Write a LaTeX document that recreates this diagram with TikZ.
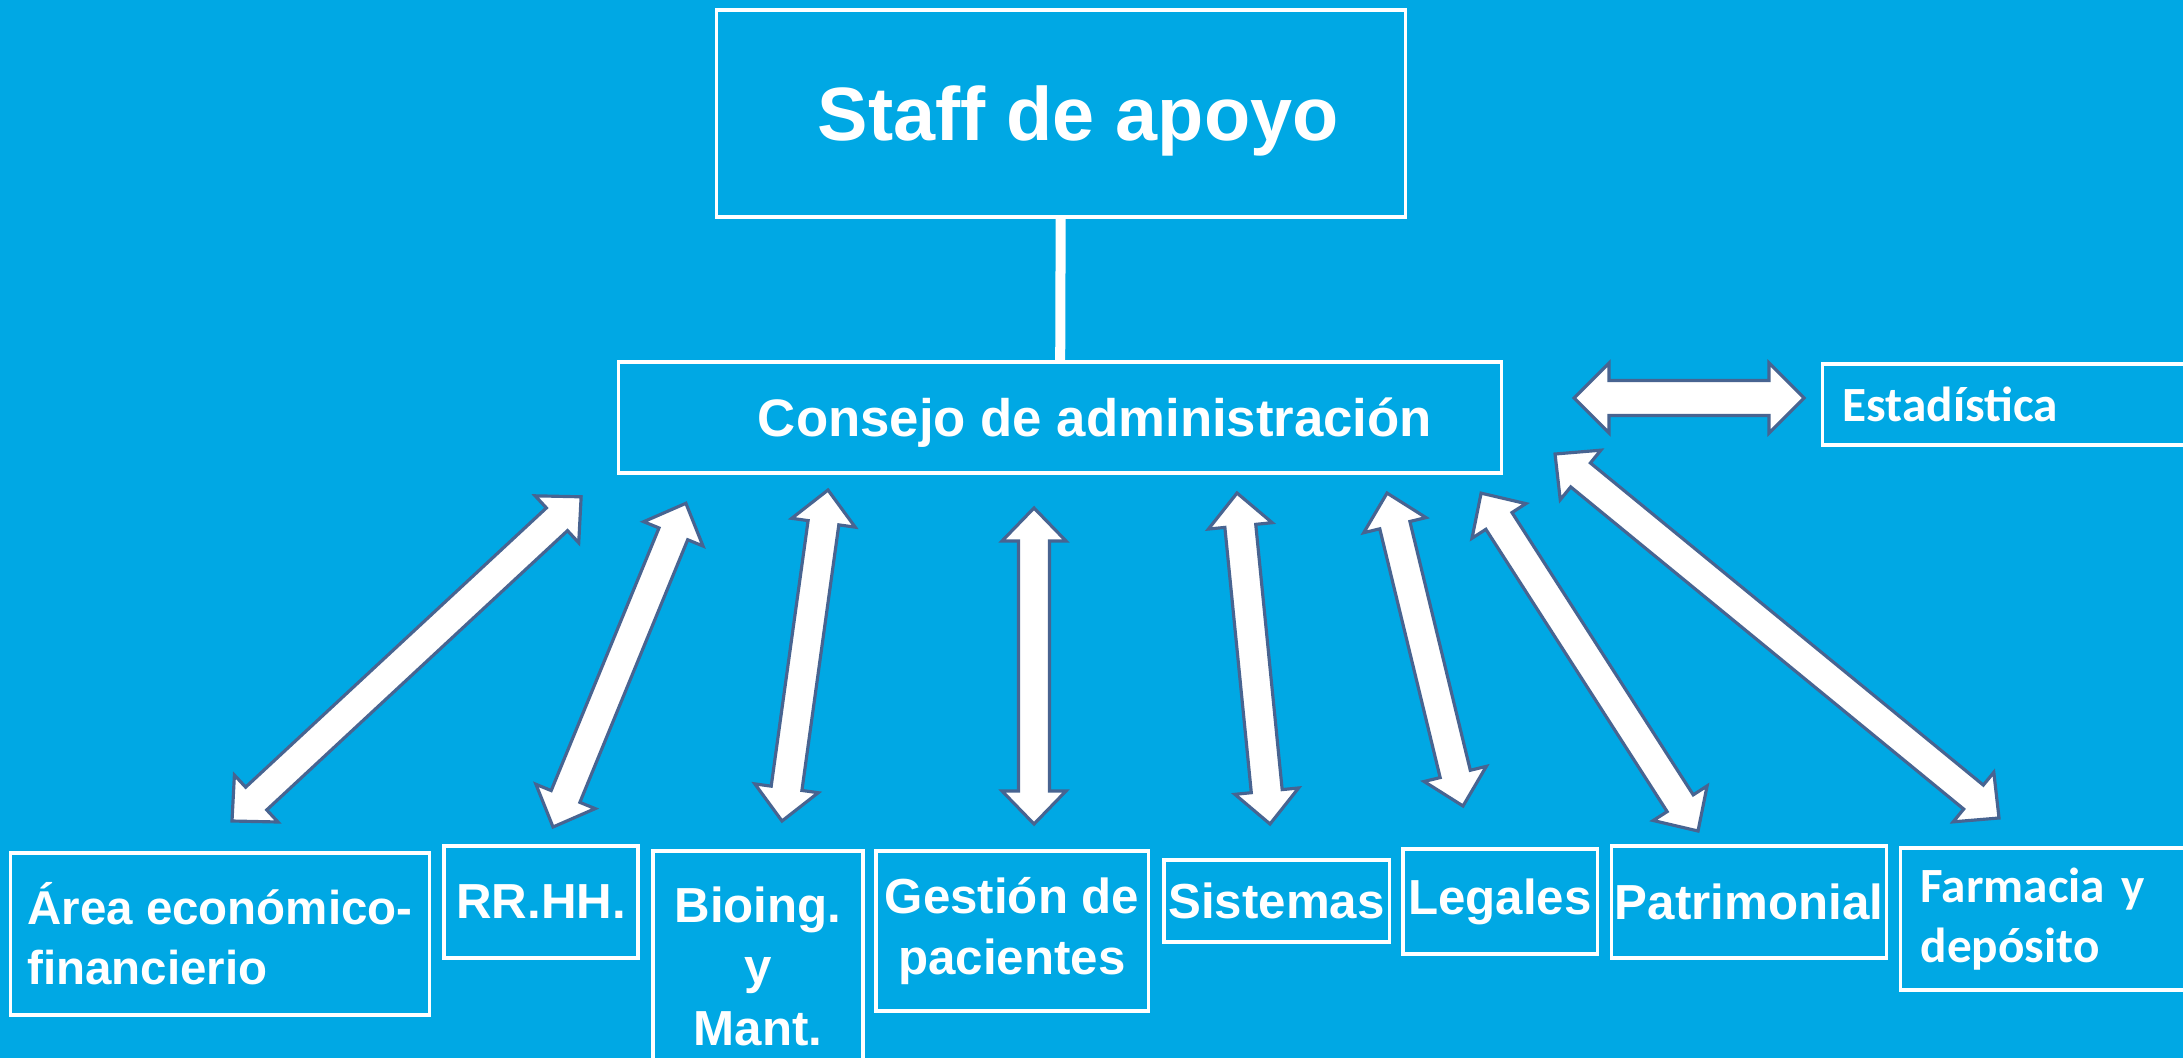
\documentclass[tikz,border=0pt]{standalone}
\usepackage{fontspec}
\setmainfont{Liberation Sans}
\newfontfamily\calibfont{Carlito}
\usetikzlibrary{calc}
\definecolor{bgblue}{RGB}{0,168,228}
\definecolor{arrowedge}{RGB}{72,100,145}

\newcommand\arrhl{0.33cm}
\newcommand\arrhw{0.32cm}
\newcommand\arrsw{0.155cm}
\newcommand{\dblarrow}[3][]{%
  \draw[blockarrow,#1] let \p1=(#2), \p2=(#3),
      \n1={atan2(\y2-\y1,\x2-\x1)}, \n2={veclen(\x2-\x1,\y2-\y1)} in
    [shift={(\p1)}, rotate=\n1]
    (0pt,0pt) -- (\arrhl,\arrhw) -- (\arrhl,\arrsw) -- ({\n2*1pt-\arrhl},\arrsw)
    -- ({\n2*1pt-\arrhl},\arrhw) -- ({\n2*1pt},0pt) -- ({\n2*1pt-\arrhl},-\arrhw)
    -- ({\n2*1pt-\arrhl},-\arrsw) -- (\arrhl,-\arrsw) -- (\arrhl,-\arrhw) -- cycle;
}

\tikzset{
  box/.style={draw=white, line width=0.9pt, text=white, inner sep=1pt, align=center,
    font=\bfseries\fontsize{14}{17.5}\selectfont},
  blockarrow/.style={fill=white, draw=arrowedge, line width=0.9pt, line join=miter}
}

\begin{document}
\begin{tikzpicture}[x=0.01cm, y=-0.01cm]
  \fill[bgblue] (0,0) rectangle (2183,1058);
  \useasboundingbox (0,0) rectangle (2183,1058);

  \node[box, minimum width=6.88cm, minimum height=2.07cm, text depth=0pt,
    font=\bfseries\fontsize{21.5}{26}\selectfont] (staff) at (1061,113.5) {\hspace*{0.34cm}Staff de apoyo};
  \node[box, minimum width=8.82cm, minimum height=1.11cm, text depth=0pt,
    font=\bfseries\fontsize{15}{18}\selectfont] (consejo) at (1060,417.5) {\hspace*{0.7cm}Consejo de administración};
  \node[box, anchor=west, minimum height=0.81cm, text width=3.9cm, inner xsep=0.2cm, align=left,
    font=\calibfont\bfseries\fontsize{14}{17}\selectfont] (estad) at (1821,404.5) {Estadística};

  \node[box, minimum width=4.18cm, minimum height=1.62cm, align=left,
    font=\bfseries\fontsize{13.5}{17}\selectfont] (area) at (220,934) {Área económico-\\financierio};
  \node[box, minimum width=1.94cm, minimum height=1.12cm] (rrhh) at (541,902) {RR.HH.};
  \node[box, minimum width=2.10cm, minimum height=2.30cm] (bioing) at (758,966) {Bioing.\\y\\Mant.};
  \node[box, minimum width=2.72cm, minimum height=1.60cm] (gestion) at (1012,931) {Gestión de\\pacientes};
  \node[box, minimum width=2.25cm, minimum height=0.82cm] (sistemas) at (1276.5,901) {Sistemas};
  \node[box, minimum width=1.94cm, minimum height=1.05cm] (legales) at (1500,901.5) {Legales};
  \node[box, minimum width=2.74cm, minimum height=1.12cm] (patri) at (1749,902) {Patrimonial};
  \node[box, anchor=west, minimum height=1.42cm, text width=3.4cm, inner xsep=0.2cm, align=left,
    font=\calibfont\bfseries\fontsize{14}{17}\selectfont] (farmacia) at (1899,919) {Farmacia y\\depósito};

  \draw[white, line width=0.1cm] (staff) -- (consejo);

  \coordinate (a1) at (232,821);  \coordinate (a2) at (582,496);
  \coordinate (r1) at (553,827);  \coordinate (r2) at (686,503);
  \coordinate (b1) at (782,821);  \coordinate (b2) at (828,490);
  \coordinate (g1) at (1034,824); \coordinate (g2) at (1034,508);
  \coordinate (s1) at (1270,824); \coordinate (s2) at (1237,493);
  \coordinate (l1) at (1463,806); \coordinate (l2) at (1387,493);
  \coordinate (p1) at (1698,831); \coordinate (p2) at (1481,493);
  \coordinate (f1) at (1999,818); \coordinate (f2) at (1555,454);
  \coordinate (e1) at (1574,398); \coordinate (e2) at (1804,398);

  \foreach \s/\t in {a1/a2, r1/r2, b1/b2, g1/g2, s1/s2, l1/l2, p1/p2, f1/f2}
    \dblarrow{\s}{\t};
  {\renewcommand\arrhl{0.35cm}\renewcommand\arrhw{0.35cm}\renewcommand\arrsw{0.175cm}
   \dblarrow{e1}{e2}}
\end{tikzpicture}
\end{document}
